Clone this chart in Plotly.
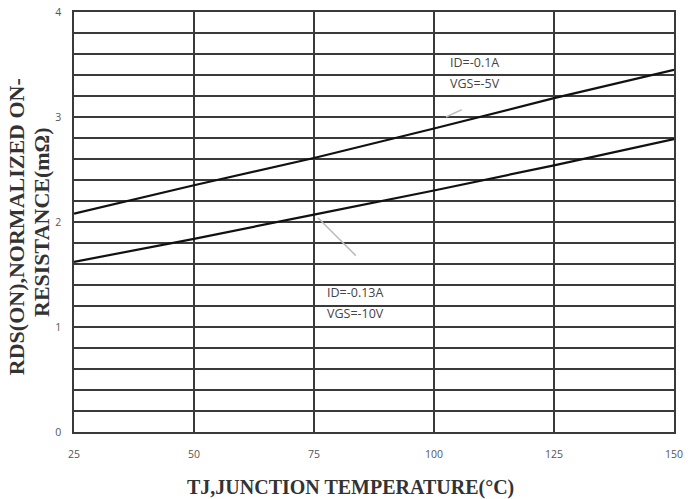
import plotly.graph_objects as go

temps = [25, 50, 75, 100, 125, 150]
rds_5v = [2.08, 2.35, 2.61, 2.89, 3.18, 3.45]
rds_10v = [1.62, 1.84, 2.07, 2.30, 2.54, 2.79]
x_ticks = [25, 50, 75, 100, 125, 150]
y_ticks = [0, 1, 2, 3, 4]

fig = go.Figure()
fig.add_trace(go.Scatter(x=temps, y=rds_5v, mode="lines",
                         line=dict(color="#111111", width=2.2), showlegend=False))
fig.add_trace(go.Scatter(x=temps, y=rds_10v, mode="lines",
                         line=dict(color="#111111", width=2.2), showlegend=False))

grid = "#3a3a3a"
fig.update_xaxes(range=[25, 150], tickvals=x_ticks, showgrid=True, gridcolor=grid, gridwidth=1.5,
                 showline=True, linecolor=grid, linewidth=1.5, mirror=True, zeroline=False,
                 ticks="", ticklabelstandoff=12, automargin=False,
                 tickfont=dict(family="Open Sans", size=10.5, color="#555555"))
fig.update_yaxes(range=[0, 4], tickvals=y_ticks, showgrid=True, gridcolor=grid, gridwidth=1.5,
                 minor=dict(dtick=0.2, showgrid=True, gridcolor=grid, gridwidth=1.5),
                 showline=True, linecolor=grid, linewidth=1.5, mirror=True, zeroline=False,
                 ticks="", ticklabelstandoff=9, automargin=False,
                 tickfont=dict(family="Open Sans", size=10.5, color="#555555"))

ann_font = dict(family="Open Sans", size=12.5, color="#444444")
title_font = dict(family="Liberation Serif", size=22, color="#333333")
fig.update_layout(
    width=688, height=499,
    margin=dict(l=74, r=14, t=12, b=67, autoexpand=False),
    plot_bgcolor="white", paper_bgcolor="white",
    annotations=[
        dict(x=103.0, y=3.52, xref="x", yref="y", text="ID=-0.1A", showarrow=False,
             xanchor="left", font=ann_font),
        dict(x=103.0, y=3.32, xref="x", yref="y", text="VGS=-5V", showarrow=False,
             xanchor="left", font=ann_font),
        dict(x=77.3, y=1.33, xref="x", yref="y", text="ID=-0.13A", showarrow=False,
             xanchor="left", font=ann_font),
        dict(x=77.3, y=1.13, xref="x", yref="y", text="VGS=-10V", showarrow=False,
             xanchor="left", font=ann_font),
        dict(x=-0.0967, y=0.49, xref="paper", yref="paper", textangle=-90,
             text="<b>RDS(ON),NORMALIZED ON-</b>", showarrow=False, font=title_font,
             xanchor="center", yanchor="middle"),
        dict(x=-0.055, y=0.5, xref="paper", yref="paper", textangle=-90,
             text="<b>RESISTANCE(mΩ)</b>", showarrow=False, font=title_font,
             xanchor="center", yanchor="middle"),
        dict(x=0.46, y=-0.131, xref="paper", yref="paper",
             text="<b>TJ,JUNCTION TEMPERATURE(°C)</b>", showarrow=False,
             font=dict(family="Liberation Serif", size=20, color="#333333"),
             xanchor="center", yanchor="middle"),
    ],
    shapes=[
        dict(type="line", xref="x", yref="y", x0=102.5, y0=3.0, x1=105.8, y1=3.07,
             line=dict(color="#bbbbbb", width=1.5)),
        dict(type="line", xref="x", yref="y", x0=75.8, y0=2.04, x1=83.7, y1=1.68,
             line=dict(color="#bbbbbb", width=1.5)),
    ],
)
fig.write_html("out.html", config={"displayModeBar": False},
               post_script="document.body.style.margin='0px';")
